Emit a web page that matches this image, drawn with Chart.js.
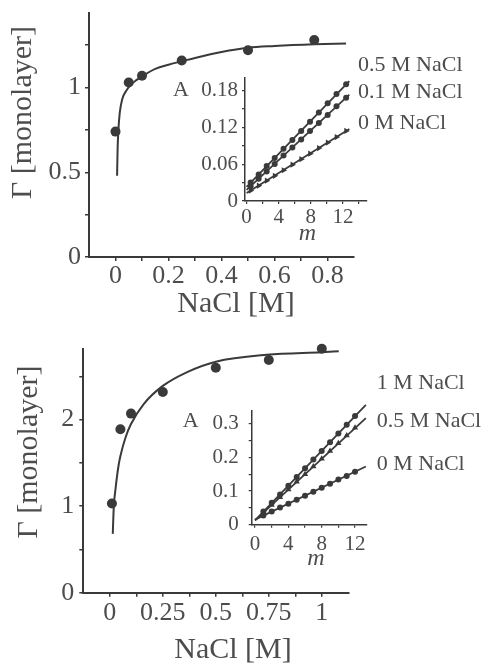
<!DOCTYPE html>
<html>
<head>
<meta charset="utf-8">
<script src="https://cdn.jsdelivr.net/npm/chart.js@4.4.1/dist/chart.umd.min.js"></script>
<style>
  html, body { margin: 0; padding: 0; background: #fff; }
  body { width: 484px; height: 664px; position: relative; overflow: hidden; }
  canvas { position: absolute; }
</style>
</head>
<body>
<canvas id="mainTop" width="484" height="352" style="left:0;top:-20px"></canvas>
<canvas id="insetTop" width="334" height="210" style="left:150px;top:50px"></canvas>
<canvas id="mainBot" width="484" height="352" style="left:0;top:312px"></canvas>
<canvas id="insetBot" width="334" height="210" style="left:150px;top:370px"></canvas>
<script>
// ---- upper panel: surface excess vs NaCl ----
var saltTop = [0, 0.05, 0.1, 0.25, 0.5, 0.75];
var gammaTop = [0.74, 1.03, 1.07, 1.16, 1.22, 1.28];
var fitTopX = [0.006, 0.008, 0.011, 0.016, 0.025, 0.04, 0.06, 0.08, 0.1, 0.15, 0.2, 0.25, 0.3, 0.4, 0.5, 0.6, 0.75, 0.87];
var fitTopY = [0.48, 0.64, 0.75, 0.85, 0.93, 0.98, 1.02, 1.045, 1.066, 1.11, 1.135, 1.155, 1.175, 1.21, 1.235, 1.245, 1.255, 1.26];
var topXTicks = [0, 0.1, 0.2, 0.3, 0.4, 0.5, 0.6, 0.7, 0.8];
var topXLabels = ['0', '', '0.2', '', '0.4', '', '0.6', '', '0.8'];
var topYTicks = [0, 0.25, 0.5, 0.75, 1, 1.25];
var topYLabels = ['0', '', '0.5', '', '1', ''];

// upper inset: A vs m
var insTopLineM = [0, 12.8];
var insTop05Line = [0.023, 0.195];
var insTop01Line = [0.018, 0.173];
var insTop00Line = [0.013, 0.117];
var insTopM = [0.5, 1.5, 2.5, 3.5, 4.6, 5.7, 6.8, 7.9, 9, 10.1, 11.2, 12.4];
var insTop05 = [0.030, 0.043, 0.057, 0.070, 0.085, 0.099, 0.114, 0.129, 0.144, 0.159, 0.174, 0.190];
var insTop01 = [0.024, 0.036, 0.048, 0.060, 0.074, 0.087, 0.100, 0.114, 0.127, 0.140, 0.154, 0.168];
var insTop00 = [0.017, 0.025, 0.033, 0.041, 0.050, 0.059, 0.068, 0.077, 0.086, 0.095, 0.104, 0.114];
var insTopXTicks = [0, 2, 4, 6, 8, 10, 12, 14];
var insTopXLabels = ['0', '', '4', '', '8', '', '12', ''];
var insTopYTicks = [0, 0.03, 0.06, 0.09, 0.12, 0.15, 0.18];
var insTopYLabels = ['0', '', '0.06', '', '0.12', '', '0.18'];

// ---- lower panel ----
var saltBot = [0.01, 0.05, 0.1, 0.25, 0.5, 0.75, 1.0];
var gammaBot = [1.03, 1.89, 2.07, 2.32, 2.6, 2.69, 2.82];
var fitBotX = [0.014, 0.019, 0.027, 0.04, 0.05, 0.075, 0.1, 0.16, 0.25, 0.365, 0.5, 0.74, 1.0, 1.08];
var fitBotY = [0.68, 1.0, 1.2, 1.45, 1.58, 1.8, 1.95, 2.18, 2.39, 2.55, 2.67, 2.75, 2.78, 2.79];
var botXTicks = [0, 0.125, 0.25, 0.375, 0.5, 0.625, 0.75, 0.875, 1];
var botXLabels = ['0', '', '0.25', '', '0.5', '', '0.75', '', '1'];
var botYTicks = [0, 0.5, 1, 1.5, 2, 2.5];
var botYLabels = ['0', '', '1', '', '2', ''];

var insBotLineM = [0, 13.3];
var insBot1Line = [0.013, 0.356];
var insBot05Line = [0.013, 0.317];
var insBot00Line = [0.015, 0.173];
var insBotM = [1, 2, 3, 4, 5, 6, 7, 8, 9, 10, 11, 12];
var insBot1 = [0.039, 0.065, 0.090, 0.116, 0.142, 0.168, 0.194, 0.219, 0.245, 0.271, 0.297, 0.323];
var insBot05 = [0.036, 0.059, 0.082, 0.105, 0.128, 0.150, 0.173, 0.196, 0.219, 0.242, 0.265, 0.288];
var insBot00 = [0.027, 0.039, 0.051, 0.062, 0.074, 0.086, 0.098, 0.110, 0.122, 0.134, 0.145, 0.157];
var insBotXTicks = [0, 2, 4, 6, 8, 10, 12];
var insBotXLabels = ['0', '', '4', '', '8', '', '12'];
var insBotYTicks = [0, 0.05, 0.1, 0.15, 0.2, 0.25, 0.3];
var insBotYLabels = ['0', '', '0.1', '', '0.2', '', '0.3'];

var INK = '#3a3a3a';
var TEXT = '#4d4d4d';
var SERIF = "'Liberation Serif', 'DejaVu Serif', 'Times New Roman', serif";

function pts(xs, ys) {
  return xs.map(function (x, i) { return { x: x, y: ys[i] }; });
}

// free text (axis titles, series names) given in page coordinates
function textPlugin(items, dx, dy) {
  return {
    id: 'pageText',
    afterDraw: function (chart) {
      var ctx = chart.ctx;
      items.forEach(function (t) {
        ctx.save();
        ctx.fillStyle = TEXT;
        ctx.font = (t.italic ? 'italic ' : '') + t.size + 'px ' + SERIF;
        ctx.textAlign = t.align || 'left';
        ctx.textBaseline = t.baseline || 'middle';
        ctx.translate(t.x - dx, t.y - dy);
        if (t.rotate) ctx.rotate(t.rotate * Math.PI / 180);
        ctx.fillText(t.text, 0, 0);
        ctx.restore();
      });
    }
  };
}

function axis(o) {
  return {
    type: 'linear',
    position: o.pos,
    min: o.min,
    max: o.max,
    afterFit: function (s) {
      if (o.pos === 'left') s.width = o.size; else s.height = o.size;
    },
    afterBuildTicks: function (s) {
      s.ticks = o.ticks.map(function (v) { return { value: v }; });
    },
    ticks: {
      autoSkip: false,
      maxRotation: 0,
      padding: o.pad,
      color: TEXT,
      font: { family: SERIF, size: o.font },
      callback: function (v, i) { return o.labels[i]; }
    },
    grid: { drawOnChartArea: false, color: INK, tickLength: o.tl, lineWidth: o.lw },
    border: { color: INK, width: o.bw }
  };
}

function lineSet(xs, ys, w) {
  return { data: pts(xs, ys), showLine: true, pointRadius: 0, borderColor: INK, borderWidth: w };
}
function markSet(xs, ys, style, r, rot) {
  return { data: pts(xs, ys), showLine: false, pointStyle: style, pointRadius: r, clip: false,
    pointRotation: rot || 0, backgroundColor: INK, borderColor: INK, borderWidth: 0 };
}

function base(pad, scales) {
  return {
    responsive: false,
    animation: false,
    devicePixelRatio: 1,
    layout: { padding: pad },
    scales: scales,
    plugins: { legend: { display: false }, tooltip: { enabled: false } }
  };
}

// main upper chart: canvas at page (0,-20)
var fitTop = lineSet(fitTopX, fitTopY, 2);
fitTop.cubicInterpolationMode = 'monotone';
new Chart(document.getElementById('mainTop'), {
  type: 'scatter',
  data: { datasets: [fitTop, markSet(saltTop, gammaTop, 'circle', 5)] },
  options: base({ top: 33, right: 130, left: 0, bottom: 0 }, {
    x: axis({ pos: 'bottom', min: -0.1, max: 0.9, size: 75, ticks: topXTicks, labels: topXLabels, font: 26, pad: 0, tl: 4, lw: 1.5, bw: 2 }),
    y: axis({ pos: 'left', min: 0, max: 1.44, size: 89, ticks: topYTicks, labels: topYLabels, font: 26, pad: 4, tl: 4, lw: 1.5, bw: 2 })
  }),
  plugins: [textPlugin([
    { text: 'Γ [monolayer]', x: 23, y: 112.5, size: 30, rotate: -90, align: 'center' },
    { text: 'NaCl [M]', x: 236, y: 304, size: 30, align: 'center' }
  ], 0, -20)]
});

// upper inset: canvas at page (150,50)
new Chart(document.getElementById('insetTop'), {
  type: 'scatter',
  data: { datasets: [
    lineSet(insTopLineM, insTop05Line, 1.8),
    lineSet(insTopLineM, insTop01Line, 1.8),
    lineSet(insTopLineM, insTop00Line, 1.8),
    markSet(insTopM, insTop05, 'circle', 3),
    markSet(insTopM, insTop01, 'circle', 3),
    markSet(insTopM, insTop00, 'triangle', 3.6, 90)
  ] },
  options: base({ top: 28, right: 117, left: 0, bottom: 0 }, {
    x: axis({ pos: 'bottom', min: -0.2, max: 15, size: 59, ticks: insTopXTicks, labels: insTopXLabels, font: 21, pad: 1, tl: 3, lw: 1.2, bw: 1.5 }),
    y: axis({ pos: 'left', min: 0, max: 0.2, size: 95, ticks: insTopYTicks, labels: insTopYLabels, font: 21, pad: 4, tl: 3, lw: 1.2, bw: 1.5 })
  }),
  plugins: [textPlugin([
    { text: 'A', x: 173, y: 90.7, size: 22 },
    { text: 'm', x: 307.5, y: 240, size: 24, italic: true, align: 'center', baseline: 'alphabetic' },
    { text: '0.5 M NaCl', x: 358, y: 65.7, size: 22 },
    { text: '0.1 M NaCl', x: 358, y: 92.7, size: 22 },
    { text: '0 M NaCl', x: 358, y: 123.7, size: 22 }
  ], 150, 50)]
});

// main lower chart: canvas at page (0,312)
var fitBot = lineSet(fitBotX, fitBotY, 2);
fitBot.cubicInterpolationMode = 'monotone';
new Chart(document.getElementById('mainBot'), {
  type: 'scatter',
  data: { datasets: [fitBot, markSet(saltBot, gammaBot, 'circle', 5)] },
  options: base({ top: 36.7, right: 135.7, left: 0, bottom: 0 }, {
    x: axis({ pos: 'bottom', min: -0.125, max: 1.125, size: 71.3, ticks: botXTicks, labels: botXLabels, font: 26, pad: 1, tl: 4, lw: 1.5, bw: 2 }),
    y: axis({ pos: 'left', min: 0, max: 2.82, size: 83.3, ticks: botYTicks, labels: botYLabels, font: 26, pad: 5, tl: 4, lw: 1.5, bw: 2 })
  }),
  plugins: [textPlugin([
    { text: 'Γ [monolayer]', x: 29, y: 452, size: 30, rotate: -90, align: 'center' },
    { text: 'NaCl [M]', x: 233, y: 650.5, size: 30, align: 'center' }
  ], 0, 312)]
});

// lower inset: canvas at page (150,370)
var line1M = lineSet(insBotLineM, insBot1Line, 1.8);
line1M.clip = false;
new Chart(document.getElementById('insetBot'), {
  type: 'scatter',
  data: { datasets: [
    line1M,
    lineSet(insBotLineM, insBot05Line, 1.8),
    lineSet(insBotLineM, insBot00Line, 1.8),
    markSet(insBotM, insBot1, 'circle', 3),
    markSet(insBotM, insBot05, 'triangle', 3.6),
    markSet(insBotM, insBot00, 'circle', 3)
  ] },
  options: base({ top: 40.3, right: 117.3, left: 0, bottom: 0 }, {
    x: axis({ pos: 'bottom', min: -0.4, max: 13.4, size: 55.3, ticks: insBotXTicks, labels: insBotXLabels, font: 21, pad: 4, tl: 3, lw: 1.2, bw: 1.5 }),
    y: axis({ pos: 'left', min: 0, max: 0.34, size: 101.7, ticks: insBotYTicks, labels: insBotYLabels, font: 21, pad: 10, tl: 3, lw: 1.2, bw: 1.5 })
  }),
  plugins: [textPlugin([
    { text: 'A', x: 182.7, y: 421.3, size: 22 },
    { text: 'm', x: 315.8, y: 565.3, size: 24, italic: true, align: 'center', baseline: 'alphabetic' },
    { text: '1 M NaCl', x: 376.7, y: 383.5, size: 22 },
    { text: '0.5 M NaCl', x: 376.7, y: 421.2, size: 22 },
    { text: '0 M NaCl', x: 376.7, y: 464.2, size: 22 }
  ], 150, 370)]
});
</script>
</body>
</html>
